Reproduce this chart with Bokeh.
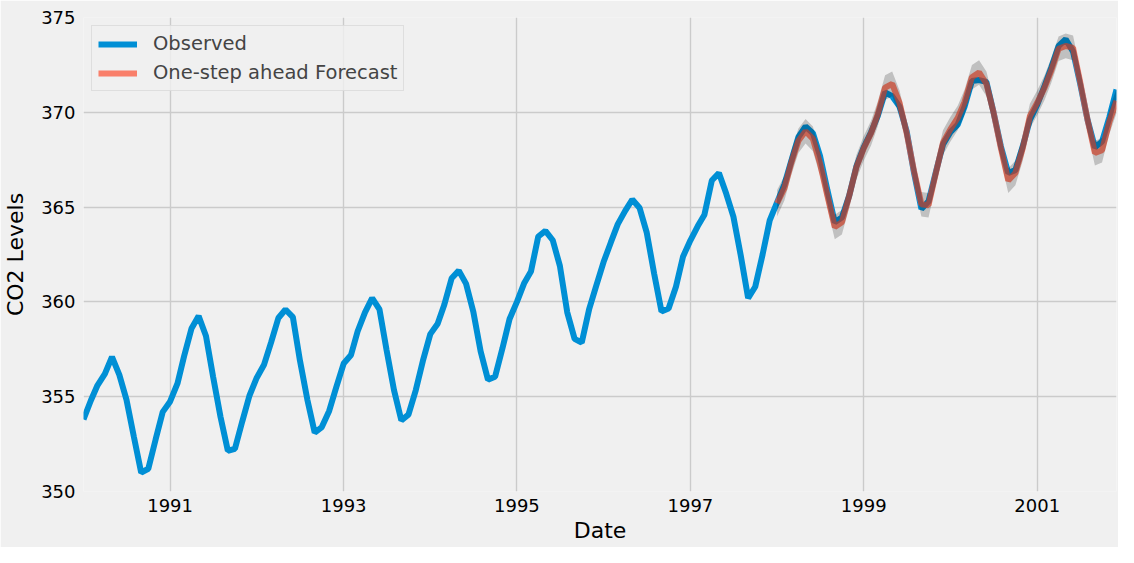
import pandas as pd
from bokeh.plotting import figure
from bokeh.models import Range1d, FixedTicker, DatetimeTickFormatter, Legend
from bokeh.embed import file_html
from bokeh.resources import INLINE

# ---- data ----
start_month = "1990-01-01"
observed = [
    353.8, 354.8, 355.6, 356.2, 357.1, 356.15, 354.85, 352.9, 351.0, 351.2, 352.75, 354.2,
    354.75, 355.7, 357.15, 358.6, 359.25, 358.2, 356.05, 353.95, 352.15, 352.25, 353.7, 355.05,
    356.0, 356.7, 357.85, 359.15, 359.6, 359.2, 356.9, 354.85, 353.1, 353.4, 354.25, 355.5,
    356.75, 357.2, 358.45, 359.45, 360.2, 359.6, 357.45, 355.35, 353.75, 354.05, 355.35, 356.9,
    358.3, 358.85, 359.85, 361.25, 361.65, 360.95, 359.5, 357.4, 355.9, 356.05, 357.55, 359.1,
    360.0, 361.0, 361.6, 363.45, 363.75, 363.25, 361.9, 359.45, 358.05, 357.85, 359.6, 360.85,
    362.1, 363.15, 364.1, 364.8, 365.4, 364.95, 363.65, 361.5, 359.5, 359.65, 360.8, 362.4,
    363.25, 364.0, 364.6, 366.4, 366.8, 365.7, 364.5, 362.45, 360.2, 360.8, 362.5, 364.3,
    365.25, 366.2, 367.4, 368.7, 369.25, 368.9, 367.7, 365.9, 364.2, 364.45, 365.6, 367.15,
    368.15, 368.95, 369.8, 371.05, 370.85, 370.3, 369.0, 366.8, 364.9, 365.3, 366.85, 368.3,
    368.95, 369.35, 370.3, 371.65, 371.7, 371.6, 370.0, 368.2, 366.8, 366.95, 368.2, 369.6,
    370.4, 371.4, 372.35, 373.5, 373.85, 373.2, 371.5, 369.6, 368.15, 368.45, 369.75, 371.2,
]
forecast_start = "1998-01-01"
forecast = [
    365.2, 366.0, 367.3, 368.5, 369.0, 368.6, 367.3, 365.6, 363.95, 364.2, 365.6, 367.1,
    368.1, 368.9, 369.9, 371.3, 371.5, 370.5, 368.9, 366.9, 365.15, 365.1, 366.8, 368.4,
    369.1, 369.7, 370.55, 371.85, 372.1, 371.5, 370.0, 368.1, 366.4, 366.8, 368.1, 369.8,
    370.5, 371.3, 372.2, 373.35, 373.5, 373.4, 371.6, 369.6, 367.85, 368.0, 369.5, 370.6,
]
ci_lower = [
    364.5, 365.35, 366.65, 367.85, 368.35, 367.95, 366.65, 364.95, 363.3, 363.55, 364.95, 366.45,
    367.45, 368.25, 369.25, 370.65, 370.85, 369.85, 368.25, 366.25, 364.5, 364.45, 366.15, 367.75,
    368.45, 369.05, 369.9, 371.2, 371.45, 370.85, 369.35, 367.45, 365.75, 366.15, 367.45, 369.15,
    369.85, 370.65, 371.55, 372.7, 372.85, 372.75, 370.95, 368.95, 367.2, 367.35, 368.85, 369.95,
]
ci_upper = [
    365.9, 366.65, 367.95, 369.15, 369.65, 369.25, 367.95, 366.25, 364.6, 364.85, 366.25, 367.75,
    368.75, 369.55, 370.55, 371.95, 372.15, 371.15, 369.55, 367.55, 365.8, 365.75, 367.45, 369.05,
    369.75, 370.35, 371.2, 372.5, 372.75, 372.15, 370.65, 368.75, 367.05, 367.45, 368.75, 370.45,
    371.15, 371.95, 372.85, 374.0, 374.15, 374.05, 372.25, 370.25, 368.5, 368.65, 370.15, 371.25,
]
tick_years = [1991, 1993, 1995, 1997, 1999, 2001]
y_ticks = [350, 355, 360, 365, 370, 375]

dates_obs = pd.date_range(start_month, periods=len(observed), freq="MS")
dates_fc = pd.date_range(forecast_start, periods=len(forecast), freq="MS")

BG = "#f0f0f0"
FONT = "DejaVu Sans"

p = figure(
    width=1118, height=547, output_backend="svg", toolbar_location=None,
    x_axis_type="datetime",
    x_range=Range1d(dates_obs[0], dates_obs[-1]),
    y_range=Range1d(350, 375),
    min_border_left=83, min_border_right=2, min_border_top=17, min_border_bottom=56,
)
p.background_fill_color = BG
p.border_fill_color = BG
p.outline_line_color = None

l1 = p.line(dates_obs, observed, line_color="#008fd5", line_width=6)
l2 = p.line(dates_fc, forecast, line_color="#fc4f30", line_alpha=0.7, line_width=6)
p.varea(x=dates_fc, y1=ci_lower, y2=ci_upper, fill_color="black", fill_alpha=0.2)

# axes
p.xaxis.ticker = FixedTicker(ticks=[pd.Timestamp(f"{y}-01-01").value / 1e6 for y in tick_years])
p.xaxis.formatter = DatetimeTickFormatter(years="%Y", months="%Y", days="%Y", hours="%Y")
p.yaxis.ticker = FixedTicker(ticks=y_ticks)
for ax in (p.xaxis, p.yaxis):
    ax.axis_line_color = None
    ax.major_tick_line_color = None
    ax.minor_tick_line_color = None
    ax.major_tick_out = 0
    ax.major_tick_in = 0
    ax.minor_tick_out = 0
    ax.minor_tick_in = 0
    ax.major_label_text_font = FONT
    ax.major_label_text_font_size = "18px"
    ax.major_label_text_color = "black"
    ax.axis_label_text_font = FONT
    ax.axis_label_text_font_size = "22px"
    ax.axis_label_text_font_style = "normal"
    ax.axis_label_text_color = "black"
p.xaxis.major_label_standoff = 7
p.yaxis.major_label_standoff = 8
p.xaxis.axis_label = "Date"
p.yaxis.axis_label = "CO2 Levels"
p.xaxis.axis_label_standoff = 3
p.yaxis.axis_label_standoff = 10

p.xgrid.grid_line_color = "#cbcbcb"
p.ygrid.grid_line_color = "#cbcbcb"
p.xgrid.grid_line_width = 1.4
p.ygrid.grid_line_width = 1.4

legend = Legend(items=[("Observed", [l1]), ("One-step ahead Forecast", [l2])],
                location="top_left")
legend.margin = 8
legend.padding = 6
legend.spacing = 6
legend.glyph_width = 39
legend.glyph_height = 20
legend.label_height = 20
legend.label_standoff = 16
legend.label_text_font = FONT
legend.label_text_font_size = "19.5px"
legend.background_fill_color = BG
legend.background_fill_alpha = 0.8
legend.border_line_color = "#cccccc"
legend.border_line_width = 1
p.add_layout(legend)

open("out.html", "w").write(file_html(p, INLINE))
